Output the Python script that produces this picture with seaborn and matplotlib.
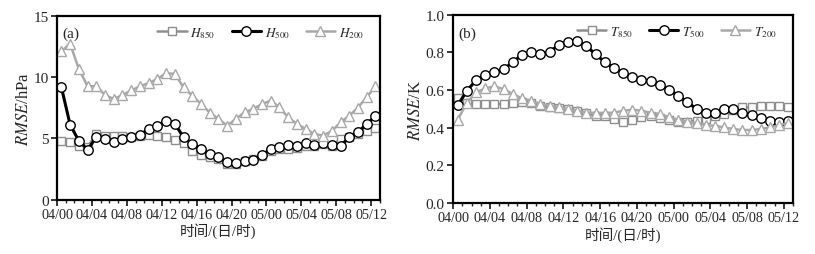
import numpy as np
import pandas as pd
import seaborn as sns
import matplotlib.pyplot as plt
from matplotlib.ticker import MultipleLocator

sns.set_style('ticks')
plt.rcParams['font.family'] = ['Liberation Serif', 'Noto Sans CJK SC']
plt.rcParams['mathtext.fontset'] = 'stix'

# hourly forecast times, points sit at the middle of each hour
hours = np.arange(37) + 0.5
tick_hours = [0, 4, 8, 12, 16, 20, 24, 28, 32, 36]
tick_labels = ['04/00', '04/04', '04/08', '04/12', '04/16', '04/20',
               '05/00', '05/04', '05/08', '05/12']

# panel (a): geopotential height RMSE (hPa)
h850 = [4.8, 4.67, 4.4, 4.3, 5.35, 5.16, 5.16, 5.16, 5.08, 5.22, 5.27, 5.22,
        5.08, 4.85, 4.6, 4.0, 3.64, 3.45, 3.32, 2.9, 2.9, 3.18, 3.32, 3.59,
        4.0, 4.13, 4.13, 4.18, 4.35, 4.4, 4.54, 4.4, 4.95, 5.08, 5.35, 5.63, 5.82]
h500 = [9.16, 6.1, 4.8, 4.08, 5.08, 4.95, 4.73, 4.95, 5.08, 5.27, 5.76, 6.03,
        6.44, 6.2, 5.08, 4.54, 4.13, 3.72, 3.45, 3.04, 2.95, 3.18, 3.23, 3.64,
        4.13, 4.27, 4.46, 4.35, 4.62, 4.46, 4.59, 4.46, 4.4, 5.08, 5.49, 6.17, 6.8]
h200 = [12.1, 12.7, 10.65, 9.24, 9.24, 8.53, 8.2, 8.53, 8.9, 9.24, 9.5, 9.84,
        10.3, 10.25, 9.15, 8.48, 7.8, 7.1, 6.58, 6.03, 6.58, 7.12, 7.4, 7.8,
        8.07, 7.53, 6.7, 6.17, 5.76, 5.35, 5.22, 5.6, 6.3, 6.85, 7.5, 8.35, 9.24]

# panel (b): temperature RMSE (K)
t850 = [0.56, 0.53, 0.526, 0.524, 0.524, 0.526, 0.534, 0.538, 0.53, 0.517,
        0.508, 0.503, 0.5, 0.49, 0.48, 0.464, 0.46, 0.446, 0.432, 0.442, 0.455,
        0.46, 0.45, 0.442, 0.432, 0.432, 0.437, 0.446, 0.46, 0.473, 0.495,
        0.508, 0.508, 0.513, 0.513, 0.513, 0.508]
t500 = [0.52, 0.596, 0.653, 0.68, 0.694, 0.71, 0.75, 0.786, 0.8, 0.79, 0.805,
        0.839, 0.858, 0.862, 0.835, 0.79, 0.75, 0.717, 0.69, 0.667, 0.653,
        0.65, 0.627, 0.602, 0.57, 0.535, 0.5, 0.478, 0.48, 0.5, 0.5, 0.48,
        0.467, 0.45, 0.437, 0.428, 0.437]
t200 = [0.442, 0.534, 0.588, 0.609, 0.62, 0.605, 0.579, 0.556, 0.543, 0.526,
        0.517, 0.508, 0.5, 0.49, 0.48, 0.478, 0.478, 0.48, 0.49, 0.496, 0.49,
        0.48, 0.473, 0.455, 0.442, 0.432, 0.425, 0.414, 0.41, 0.402, 0.393,
        0.388, 0.388, 0.393, 0.402, 0.414, 0.425]

gray1 = '#8e8e8e'
gray2 = '#a8a8a8'

fig = plt.figure(figsize=(8.15, 2.55), dpi=100)
ax1 = fig.add_axes([0.070, 0.213, 0.396, 0.722])
ax2 = fig.add_axes([0.556, 0.200, 0.417, 0.738])


def draw(ax, s850, s500, s200, names, ylim, ystep, ylabel, tag):
    sns.lineplot(x=hours, y=s850, ax=ax, color=gray1, lw=1.8, marker='s',
                 markersize=6.3, markerfacecolor='white', markeredgecolor=gray1,
                 markeredgewidth=1.0, label=names[0])
    sns.lineplot(x=hours, y=s500, ax=ax, color='black', lw=2.2, marker='o',
                 markersize=6.8, markerfacecolor='white', markeredgecolor='black',
                 markeredgewidth=1.0, label=names[1])
    sns.lineplot(x=hours, y=s200, ax=ax, color=gray2, lw=1.8, marker='^',
                 markersize=6.8, markerfacecolor='white', markeredgecolor=gray2,
                 markeredgewidth=1.0, label=names[2])
    ax.set_xlim(0, 37)
    ax.set_ylim(*ylim)
    ax.set_xticks(tick_hours)
    ax.set_xticklabels(tick_labels)
    ax.xaxis.set_minor_locator(MultipleLocator(1))
    ax.yaxis.set_major_locator(MultipleLocator(ystep))
    ax.tick_params(axis='both', which='major', direction='out', length=4,
                   width=1.3, pad=2)
    ax.tick_params(axis='x', labelsize=10.2)
    ax.tick_params(axis='y', labelsize=11)
    ax.tick_params(axis='x', which='minor', direction='out', length=2.5, width=1.0)
    for sp in ax.spines.values():
        sp.set_visible(True)
        sp.set_linewidth(1.6)
        sp.set_color('black')
    ax.set_xlabel('时间/(日/时)', fontsize=10.5, labelpad=1)
    ax.set_ylabel(ylabel, fontsize=12, labelpad=1)
    ax.text(0.015, 0.94, tag, transform=ax.transAxes, fontsize=11,
            va='top', ha='left')
    ax.legend(loc='upper right', ncol=3, frameon=False, fontsize=9.5,
              handlelength=2.2, columnspacing=1.2, handletextpad=0.3,
              borderaxespad=0.3, bbox_to_anchor=(0.98, 1.0))


draw(ax1, h850, h500, h200, [r'$H_{850}$', r'$H_{500}$', r'$H_{200}$'],
     (0, 15), 5, r'$RMSE$/hPa', '(a)')
ax1.yaxis.set_major_formatter(plt.FuncFormatter(lambda v, p: f'{v:.0f}'))
draw(ax2, t850, t500, t200, [r'$T_{850}$', r'$T_{500}$', r'$T_{200}$'],
     (0, 1.0), 0.2, r'$RMSE$/K', '(b)')
ax2.yaxis.set_major_formatter(plt.FuncFormatter(lambda v, p: f'{v:.1f}'))

fig.savefig('out.png', dpi=100)
